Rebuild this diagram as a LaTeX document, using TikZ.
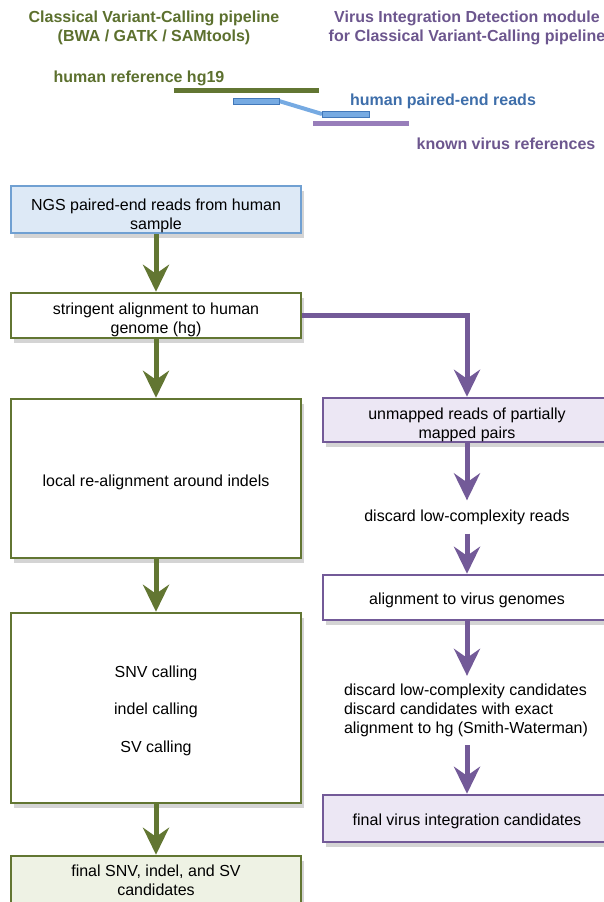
\documentclass[tikz,border=0pt]{standalone}
\usepackage{fontspec}
\setmainfont{Liberation Sans}
\usetikzlibrary{arrows.meta,shadows}
\definecolor{pipeGreen}{RGB}{98,118,50}
\definecolor{titleGreen}{RGB}{92,112,46}
\definecolor{virusPurple}{RGB}{115,90,152}
\definecolor{titlePurple}{RGB}{108,86,142}
\definecolor{virusLight}{RGB}{152,126,186}
\definecolor{readBlue}{RGB}{66,120,186}
\definecolor{readFill}{RGB}{118,170,226}
\definecolor{readText}{RGB}{62,110,170}
\definecolor{inputFill}{RGB}{221,233,246}
\definecolor{inputEdge}{RGB}{112,160,210}
\definecolor{virusFill}{RGB}{236,231,244}
\definecolor{resultFill}{RGB}{238,242,228}
% pushes the first line of a box text down a little
\newcommand{\dropline}[1]{\rule{0pt}{#1}}

\begin{document}
\begin{tikzpicture}[x=1pt, y=-1pt,
  every node/.style={font=\fontsize{16}{19}\selectfont, inner sep=0pt, align=center},
  boxshadow/.style={drop shadow={shadow xshift=3pt, shadow yshift=-5pt, opacity=0.28, fill=black!60}},
  leftbox/.style={draw=pipeGreen, line width=2.5pt, fill=white, minimum width=290pt, boxshadow},
  rightbox/.style={draw=virusPurple, line width=2.5pt, fill=white, minimum width=288pt, boxshadow},
  greenflow/.style={line width=5pt, draw=pipeGreen, -{Stealth[length=27pt, width=26pt, inset=9pt]}},
  purpleflow/.style={line width=5pt, draw=virusPurple, -{Stealth[length=27pt, width=26pt, inset=9pt]}},
  legend/.style={font=\fontsize{16}{19}\selectfont\bfseries}]
  \useasboundingbox (0,0) rectangle (604,902);
  % headings
  \node[legend, text=titleGreen] (titleL) at (154,28) {Classical Variant-Calling pipeline\\(BWA / GATK / SAMtools)};
  \node[legend, text=titlePurple] (titleR) at (467,28) {Virus Integration Detection module\\for Classical Variant-Calling pipeline};
  % sketch of reads on the references
  \coordinate (hgA) at (174,90);
  \coordinate (hgB) at (319,90);
  \coordinate (vrA) at (313,123);
  \coordinate (vrB) at (409,123);
  \coordinate (rdA) at (279,101);
  \coordinate (rdB) at (322,114);
  \draw[line width=5pt, pipeGreen] (hgA) -- (hgB);
  \draw[line width=5pt, virusLight] (vrA) -- (vrB);
  \draw[line width=4pt, readFill] (rdA) -- (rdB);
  \draw[readBlue, line width=1pt, fill=readFill] (233,98) rectangle (279,104);
  \draw[readBlue, line width=1pt, fill=readFill] (322,111) rectangle (369,117);
  \node[legend, text=titleGreen] (hglabel) at (139,78) {human reference hg19};
  \node[legend, text=readText] (readlabel) at (443,101) {human paired-end reads};
  \node[legend, text=titlePurple] (virlabel) at (506,144) {known virus references};
  % classical pipeline (left column)
  \node[leftbox, draw=inputEdge, line width=2pt, fill=inputFill, minimum height=47pt] (ngs) at (156,209.5)
    {\dropline{24pt}NGS paired-end reads from human\\sample};
  \node[leftbox, minimum height=45pt] (stringent) at (156,315.5) {\dropline{20pt}stringent alignment to human\\genome (hg)};
  \node[leftbox, minimum height=159pt] (realign) at (156,478.5) {\dropline{19pt}local re-alignment around indels};
  \node[leftbox, minimum height=190pt] (calling) at (156,708)
    {\dropline{17pt}SNV calling\\[18.5pt]indel calling\\[18.5pt]SV calling};
  \node[leftbox, fill=resultFill, minimum height=47pt] (final) at (156,879.5) {\dropline{14pt}final SNV, indel, and SV\\candidates};
  % virus module (right column)
  \node[rightbox, fill=virusFill, minimum height=44pt] (unmapped) at (467,420) {\dropline{21pt}unmapped reads of partially\\mapped pairs};
  \node[inner ysep=9pt] (lowcx) at (467,517) {discard low-complexity reads};
  \node[rightbox, minimum height=45pt] (virusaln) at (467,597.5) {\dropline{18pt}alignment to virus genomes};
  \node[align=left, inner ysep=8pt] (filter) at (466,710.5)
    {discard low-complexity candidates\\discard candidates with exact\\alignment to hg (Smith-Waterman)};
  \node[rightbox, fill=virusFill, minimum height=47pt] (finalvirus) at (467,818.5) {\dropline{18pt}final virus integration candidates};
  % connectors
  \draw[greenflow] (ngs.south) -- (stringent.north);
  \draw[greenflow] (stringent.south) -- (realign.north);
  \draw[greenflow] (realign.south) -- (calling.north);
  \draw[greenflow] (calling.south) -- (final.north);
  \draw[purpleflow] (stringent.east) -| (unmapped.north);
  \draw[purpleflow] (unmapped.south) -- (lowcx.north);
  \draw[purpleflow] (lowcx.south) -- (virusaln.north);
  \draw[purpleflow] (virusaln.south) -- (filter.north -| virusaln.south);
  \draw[purpleflow] (filter.south -| finalvirus.north) -- (finalvirus.north);
\end{tikzpicture}
\end{document}
